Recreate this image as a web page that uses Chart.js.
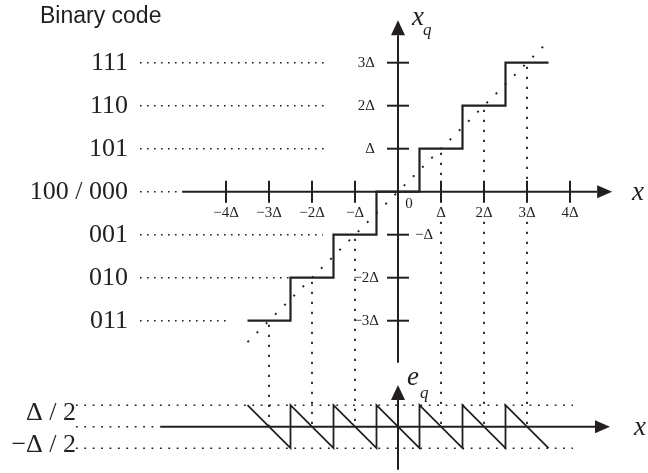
<!doctype html>
<html lang="en">
<head>
  <meta charset="utf-8" />
  <title>Quantizer staircase and error</title>
  <script src="https://cdn.jsdelivr.net/npm/chart.js@4.4.1/dist/chart.umd.min.js"></script>
  <style>
    *{box-sizing:border-box;margin:0;padding:0}
    html,body{background:#fff}
    #wrap{width:648px;height:473px;position:relative}
  </style>
</head>
<body>
  <div id="wrap"><canvas id="chart"></canvas></div>

  <script>
    /* ===== data (units of Δ) ===== */
    const codes       = ['111', '110', '101', '100 / 000', '001', '010', '011'];
    const codeLevels  = [3, 2, 1, 0, -1, -2, -3];
    const guideEnds   = [-1.63, -1.63, -1.63, -5.02, -1.75, -2.5, -4.0];

    const stepX = [-3.5, -2.5, -1.5, -0.5, 0.5, 1.5, 2.5, 3.5];
    const stepY = [-3, -2, -1, 0, 1, 2, 3, 3];

    const diagX = [-3.5, 3.4];
    const diagY = [-3.5, 3.4];

    const errX = [-3.5, -2.5, -2.5, -1.5, -1.5, -0.5, -0.5, 0.5, 0.5, 1.5, 1.5, 2.5, 2.5, 3.5];
    const errY = [0.5, -0.5, 0.5, -0.5, 0.5, -0.5, 0.5, -0.5, 0.5, -0.5, 0.5, -0.5, 0.5, -0.5];

    const xTickVals   = [-4, -3, -2, -1, 1, 2, 3, 4];
    const xTickLabels = ['−4Δ', '−3Δ', '−2Δ', '−Δ', 'Δ', '2Δ', '3Δ', '4Δ'];
    const yTickVals   = [3, 2, 1, -1, -2, -3];
    const yTickLabels = ['3Δ', '2Δ', 'Δ', '−Δ', '−2Δ', '−3Δ'];

    const dropX = [-3, -2, -1, 1, 2, 3];

    const errLevels = [0.5, -0.5];
    const errLabels = ['Δ / 2', '−Δ / 2'];

    /* ===== style ===== */
    const INK = '#231f20';
    const PX = 43;              // pixels per Δ
    const X0 = 398, Y0 = 191.7, Y0low = 426.7;

    const datasets = [];

    // dotted guides from the code labels
    codes.forEach((c, i) => {
      datasets.push({
        data: [{x: -6.0, y: codeLevels[i]}, {x: guideEnds[i], y: codeLevels[i]}],
        borderColor: INK, borderWidth: 1.6, borderDash: [1.6, 5.4], yAxisID: 'y'
      });
    });

    // dotted guides in error plot
    errLevels.forEach(v => {
      datasets.push({
        data: [{x: -7.49, y: v}, {x: 4.07, y: v}],
        borderColor: INK, borderWidth: 1.6, borderDash: [1.8, 6.6], yAxisID: 'y2'
      });
    });
    datasets.push({
      data: [{x: -7.49, y: 0}, {x: -5.53, y: 0}],
      borderColor: INK, borderWidth: 1.6, borderDash: [1.8, 6.6], yAxisID: 'y2'
    });

    // dotted diagonal x_q = x
    datasets.push({
      data: diagX.map((x, i) => ({x, y: diagY[i]})),
      borderColor: INK, borderWidth: 1.9, borderDash: [2, 11], yAxisID: 'y'
    });

    // staircase (horizontal first, then the jump)
    datasets.push({
      data: stepX.map((x, i) => ({x, y: stepY[i]})),
      stepped: 'before',
      borderColor: INK, borderWidth: 2.2, yAxisID: 'y'
    });

    // sawtooth error
    datasets.push({
      data: errX.map((x, i) => ({x, y: errY[i]})),
      borderColor: INK, borderWidth: 1.8, yAxisID: 'y2'
    });

    /* ===== axes, ticks and text ===== */
    const drawPlugin = {
      id: 'drawing',
      afterDatasetsDraw(chart) {
        const ctx = chart.ctx;
        const sx = chart.scales.x, sy = chart.scales.y, sy2 = chart.scales.y2;
        const px = v => sx.getPixelForValue(v);
        const py = v => sy.getPixelForValue(v);
        const py2 = v => sy2.getPixelForValue(v);

        ctx.save();
        ctx.strokeStyle = INK;
        ctx.fillStyle = INK;

        // dotted drops from staircase to error plot (gap at the x tick labels)
        ctx.lineWidth = 1.8;
        ctx.setLineDash([2.2, 7.8]);
        function vdots(x, y1, y2) {
          ctx.beginPath();
          ctx.moveTo(x, y1);
          ctx.lineTo(x, y2);
          ctx.stroke();
        }
        dropX.forEach(k => {
          if (k > 0) {
            vdots(px(k), py(k) + 4, py(0) - 12);
            vdots(px(k), py(0) + 30, py2(0));
          } else {
            vdots(px(k), py(k) + 4, py2(0));
          }
        });
        ctx.setLineDash([]);

        function arrow(x1, y1, x2, y2, len, half) {
          const a = Math.atan2(y2 - y1, x2 - x1);
          const bx = x2 - len * Math.cos(a), by = y2 - len * Math.sin(a);
          ctx.beginPath();
          ctx.moveTo(x1, y1);
          ctx.lineTo(bx, by);
          ctx.stroke();
          ctx.beginPath();
          ctx.moveTo(x2, y2);
          ctx.lineTo(bx - half * Math.sin(a), by + half * Math.cos(a));
          ctx.lineTo(bx + half * Math.sin(a), by - half * Math.cos(a));
          ctx.closePath();
          ctx.fill();
        }

        ctx.lineWidth = 2;
        // upper axes
        arrow(px(-5.02), py(0), px(4.98), py(0), 15, 6.5);
        arrow(px(0), py(-3.98), px(0), py(3.99), 15, 7);
        // lower axes
        arrow(px(-5.53), py2(0), px(4.93), py2(0), 15, 6.5);
        arrow(px(0), py2(-1.0), px(0), py2(0.97), 15, 7);

        // ticks
        xTickVals.forEach(v => {
          ctx.beginPath();
          ctx.moveTo(px(v), py(0) - 11);
          ctx.lineTo(px(v), py(0) + 11);
          ctx.stroke();
        });
        yTickVals.forEach(v => {
          ctx.beginPath();
          ctx.moveTo(px(0) - 11, py(v));
          ctx.lineTo(px(0) + 11, py(v));
          ctx.stroke();
        });

        // tick labels
        ctx.font = '15px "Liberation Serif", serif';
        ctx.textBaseline = 'middle';
        ctx.textAlign = 'center';
        xTickVals.forEach((v, i) => {
          ctx.fillText(xTickLabels[i], px(v), py(0) + 21);
        });
        ctx.fillText('0', px(0) + 11, py(0) + 12);
        yTickVals.forEach((v, i) => {
          if (v === -1) {
            ctx.textAlign = 'left';
            ctx.fillText(yTickLabels[i], px(0) + 17, py(v));
          } else {
            ctx.textAlign = 'right';
            ctx.fillText(yTickLabels[i], px(0) - (v < 0 ? 19 : 23), py(v));
          }
        });

        // binary code labels
        ctx.font = '26px "Liberation Serif", serif';
        ctx.textAlign = 'right';
        codes.forEach((c, i) => {
          ctx.fillText(c, 128, py(codeLevels[i]));
        });
        // error level labels
        ctx.fillText(errLabels[0], 76, py2(errLevels[0]) + 8);
        ctx.fillText(errLabels[1], 76, py2(errLevels[1]) - 3);

        ctx.font = '23px "Liberation Sans", Arial, sans-serif';
        ctx.textAlign = 'left';
        ctx.fillText('Binary code', 40, 17);

        // axis titles
        ctx.font = 'italic 27px "Liberation Serif", serif';
        ctx.textAlign = 'left';
        ctx.fillText('x', 412, 18);
        ctx.fillText('x', 632, py(0) + 1);
        ctx.fillText('x', 634, py2(0) + 1);
        ctx.fillText('e', 407, 378);
        ctx.font = 'italic 17px "Liberation Serif", serif';
        ctx.fillText('q', 423, 31);
        ctx.fillText('q', 420, 394);

        ctx.restore();
      }
    };

    new Chart(document.getElementById('chart'), {
      type: 'line',
      data: {datasets},
      options: {
        responsive: true,
        maintainAspectRatio: false,
        animation: false,
        layout: {padding: 0},
        elements: {point: {radius: 0}, line: {tension: 0, borderCapStyle: 'butt'}},
        plugins: {legend: {display: false}, tooltip: {enabled: false}},
        scales: {
          x:  {type: 'linear', display: false, min: -X0 / PX, max: (648 - X0) / PX},
          y:  {type: 'linear', display: false, min: (Y0 - 473) / PX, max: Y0 / PX},
          y2: {type: 'linear', display: false, min: (Y0low - 473) / PX, max: Y0low / PX}
        }
      },
      plugins: [drawPlugin]
    });
  </script>
</body>
</html>
